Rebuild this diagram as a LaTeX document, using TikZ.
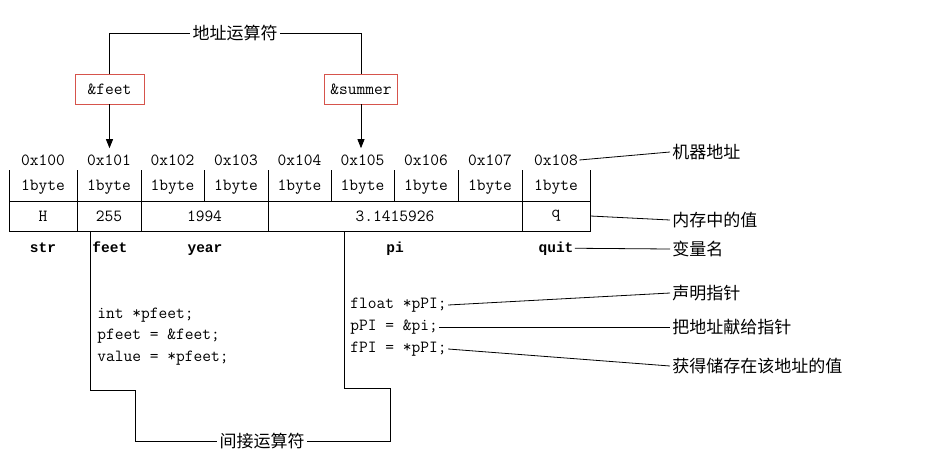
\documentclass[tikz,border=0pt]{standalone}
\usepackage{fontspec}
\newfontfamily\cjk{Noto Sans CJK SC}
\newfontfamily\namefont{Liberation Mono}
\usetikzlibrary{arrows.meta}
\definecolor{boxred}{RGB}{214,84,76}
\tikzset{
  txt/.style  = {font=\fontsize{17}{19}\selectfont\ttfamily, inner sep=1pt},
  var/.style  = {font=\fontsize{14.5}{16}\selectfont\namefont\bfseries, inner sep=1pt, anchor=base},
  note/.style = {font=\fontsize{17}{19}\selectfont\cjk, inner sep=2pt},
  cell/.style = {draw, minimum height=30pt, inner sep=0pt, font=\fontsize{17}{19}\selectfont\ttfamily},
  opbox/.style = {draw=boxred, minimum height=30pt, minimum width=69pt, inner xsep=6pt, font=\fontsize{17}{19}\selectfont\ttfamily},
  arr/.style  = {-{Triangle[width=7pt,length=9pt]}, shorten >=5pt}
}
\begin{document}
\begin{tikzpicture}[x=1pt, y=-1pt, line width=0.8pt]
        \useasboundingbox (0,0) rectangle (945,469);
        % address operator
        \node[note]  (addrop) at (235,33) {地址运算符};
        \node[opbox] (bfeet)  at (109.5,89) {\&feet};
        \node[opbox] (bsum)   at (361,89)  {\&summer};
        \draw (bfeet.north) |- (addrop.west);
        \draw (bsum.north)  |- (addrop.east);
        % memory cells
        \foreach \i/\xl/\xr in {0/9/77, 1/77/141, 2/141/204, 3/204/268, 4/268/331,
                                5/331/394, 6/394/458, 7/458/522, 8/522/590}{
          \node[txt] (a\i) at ({(\xl+\xr)/2},160) {0x10\i};
          \node[txt] (b\i) at ({(\xl+\xr)/2},187) {1byte};
          \draw (\xl,170) -- (\xl,201);
        }
        \draw (590,170) -- (590,201);
        \draw[arr] (bfeet.south) -- (bfeet.south |- a1.north);
        \draw[arr] (bsum.south)  -- (bsum.south |- a5.north);
        \node[cell, minimum width=68pt]  (vh)    at (43,216)    {H};
        \node[cell, minimum width=64pt]  (vfeet) at (109,216)   {255};
        \node[cell, minimum width=127pt] (vyear) at (204.5,216) {1994};
        \node[cell, minimum width=254pt] (vpi)   at (395,216)   {3.1415926};
        \node[cell, minimum width=68pt]  (vq)    at (556,216)   {q};
        % variable names
        \node[var]                   (nstr)  at (43,252)  {str};
        \node[var, anchor=base west] (nfeet) at (91,252)  {feet};
        \node[var]                   (nyear) at (205,252) {year};
        \node[var]                   (npi)   at (395,252) {pi};
        \node[var]                   (nquit) at (556,252) {quit};
        % code
        \node[txt, anchor=west] (cf1) at (96,315) {int *pfeet;};
        \node[txt, anchor=west] (cf2) at (96,336) {pfeet = \&feet;};
        \node[txt, anchor=west] (cf3) at (96,358) {value = *pfeet;};
        \node[txt, anchor=west] (cp1) at (349,305) {float *pPI;};
        \node[txt, anchor=west] (cp2) at (349,327) {pPI = \&pi;};
        \node[txt, anchor=west] (cp3) at (349,349) {fPI = *pPI;};
        % indirection operator
        \node[note] (indop) at (262,441) {间接运算符};
        \coordinate (feetline) at (90,231);
        \coordinate (piline)   at (344,231);
        \draw (feetline) |- (135,390) |- (indop.west);
        \draw (piline)   |- (390,388) |- (indop.east);
        % notes on the right
        \node[note, anchor=west] (lmach)   at (670,152) {机器地址};
        \node[note, anchor=west] (lval)    at (670,220) {内存中的值};
        \node[note, anchor=west] (lname)   at (670,249) {变量名};
        \node[note, anchor=west] (ldecl)   at (670,293) {声明指针};
        \node[note, anchor=west] (lassign) at (670,327) {把地址献给指针};
        \node[note, anchor=west] (lget)    at (670,366) {获得储存在该地址的值};
        \draw (a8.east)    -- (lmach.west);
        \draw (vq.east)    -- (lval.west);
        \draw (nquit.east) -- (lname.west);
        \draw (cp1.east)   -- (ldecl.west);
        \draw (cp2.east)   -- (lassign.west);
        \draw (cp3.east)   -- (lget.west);
\end{tikzpicture}
\end{document}
